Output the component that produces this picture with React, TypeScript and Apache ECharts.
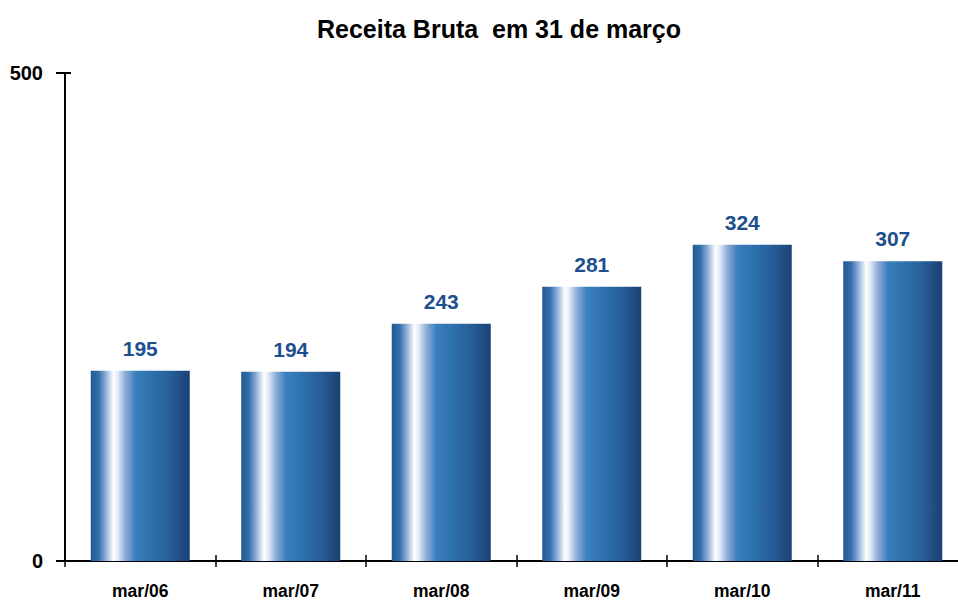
import React, { useEffect, useRef } from "react";
import * as echarts from "echarts";

const categories = ["mar/06", "mar/07", "mar/08", "mar/09", "mar/10", "mar/11"];
const values = [195, 194, 243, 281, 324, 307];
const yTicks = [0, 500];

export default function App() {
  const ref = useRef<HTMLDivElement>(null);
  useEffect(() => {
    const chart = echarts.init(ref.current!, null, { renderer: "svg" });
    const grad = new echarts.graphic.LinearGradient(0, 0, 1, 0, [
      { offset: 0, color: "#235893" },
      { offset: 0.08, color: "#3570ac" },
      { offset: 0.16, color: "#9ab6de" },
      { offset: 0.23, color: "#ffffff" },
      { offset: 0.27, color: "#e4ecf8" },
      { offset: 0.35, color: "#8eacd8" },
      { offset: 0.45, color: "#3a80be" },
      { offset: 0.6, color: "#2e72ae" },
      { offset: 0.8, color: "#275e98" },
      { offset: 1, color: "#1b4174" },
    ]);
    const font = "Liberation Sans, Arial, sans-serif";
    chart.setOption({
      animation: false,
      title: {
        text: "Receita Bruta  em 31 de março",
        left: 494,
        top: 11,
        textAlign: "center",
        textStyle: { fontFamily: font, fontWeight: "bold", fontSize: 25, color: "#000" },
      },
      grid: { left: 65, top: 73, width: 903, bottom: 37, containLabel: false },
      xAxis: [
        {
          type: "category",
          data: categories,
          axisLine: { lineStyle: { color: "#000", width: 2 } },
          axisTick: { show: true, length: 6, lineStyle: { color: "#000", width: 1.5 } },
          axisLabel: { fontFamily: font, fontWeight: "bold", fontSize: 17.5, color: "#000", margin: 21 },
        },
        {
          type: "category",
          data: categories,
          position: "bottom",
          axisLine: { show: false },
          axisTick: { show: true, inside: true, length: 6, lineStyle: { color: "#000", width: 1.5 } },
          axisLabel: { show: false },
        },
      ],
      yAxis: [
        {
          type: "value",
          min: yTicks[0],
          max: yTicks[1],
          interval: 500,
          axisLine: { show: true, lineStyle: { color: "#000", width: 2 } },
          axisTick: { show: true, length: 9, lineStyle: { color: "#000", width: 2 } },
          splitLine: { show: false },
          axisLabel: { fontFamily: font, fontWeight: "bold", fontSize: 20, color: "#000", margin: 22 },
        },
        {
          type: "value",
          min: yTicks[0],
          max: yTicks[1],
          interval: 500,
          position: "left",
          axisLine: { show: false },
          axisTick: { show: true, inside: true, length: 6, lineStyle: { color: "#000", width: 2 } },
          splitLine: { show: false },
          axisLabel: { show: false },
        },
      ],
      series: [
        {
          type: "bar",
          data: values,
          barWidth: 99,
          itemStyle: { color: grad },
          label: {
            show: true,
            position: "top",
            distance: 12,
            fontFamily: font,
            fontWeight: "bold",
            fontSize: 21,
            color: "#1d4f8e",
          },
        },
      ],
    });
    return () => chart.dispose();
  }, []);
  return (
    <div style={{ position: "absolute", left: 0, top: 0, width: 958, height: 600, overflow: "hidden" }}>
      <div ref={ref} style={{ width: 980, height: 600 }} />
    </div>
  );
}
